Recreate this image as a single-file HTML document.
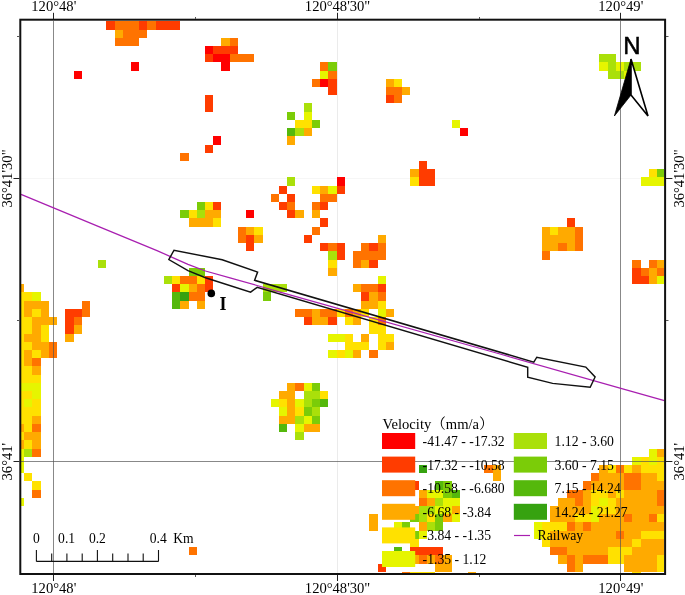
<!DOCTYPE html>
<html><head><meta charset="utf-8"><title>Velocity map</title>
<style>
html,body{margin:0;padding:0;background:#fff;}
body{width:685px;height:595px;overflow:hidden;}
svg{display:block;}
text{font-family:"Liberation Serif","Noto Serif CJK SC",serif;fill:#000;}
.ax{font-size:14.6px;}
.lg{font-size:13.7px;}
.sb{font-size:13.6px;}
</style></head><body>
<svg width="685" height="595" viewBox="0 0 685 595">
<rect x="0" y="0" width="685" height="595" fill="#fff"/>
<g fill="none" stroke-width="1">
<path d="M337.5,21V573" stroke="#ebebeb"/>
<path d="M21,178.5H664" stroke="#f6f6f6"/>
</g>
<g shape-rendering="crispEdges">
<rect x="106" y="21" width="9" height="9" fill="#FF3C00"/>
<rect x="115" y="21" width="24" height="9" fill="#FF7300"/>
<rect x="139" y="21" width="8" height="9" fill="#FF3C00"/>
<rect x="147" y="21" width="9" height="9" fill="#FF7300"/>
<rect x="156" y="21" width="24" height="9" fill="#FF3C00"/>
<rect x="115" y="30" width="8" height="8" fill="#FFAA00"/>
<rect x="123" y="30" width="24" height="8" fill="#FF7300"/>
<rect x="115" y="38" width="24" height="8" fill="#FF7300"/>
<rect x="221" y="38" width="9" height="8" fill="#FFAA00"/>
<rect x="230" y="38" width="8" height="8" fill="#FF7300"/>
<rect x="205" y="46" width="8" height="8" fill="#FF0000"/>
<rect x="213" y="46" width="25" height="8" fill="#FF3C00"/>
<rect x="205" y="54" width="8" height="8" fill="#FF3C00"/>
<rect x="213" y="54" width="17" height="8" fill="#FF0000"/>
<rect x="230" y="54" width="24" height="8" fill="#FF7300"/>
<rect x="599" y="54" width="17" height="8" fill="#AAE00A"/>
<rect x="131" y="62" width="8" height="9" fill="#FF0000"/>
<rect x="221" y="62" width="9" height="9" fill="#FF0000"/>
<rect x="320" y="62" width="8" height="9" fill="#FF7300"/>
<rect x="328" y="62" width="9" height="9" fill="#7BCC08"/>
<rect x="599" y="62" width="9" height="9" fill="#E6F500"/>
<rect x="608" y="62" width="8" height="9" fill="#AAE00A"/>
<rect x="616" y="62" width="8" height="9" fill="#E6F500"/>
<rect x="624" y="62" width="17" height="9" fill="#AAE00A"/>
<rect x="74" y="71" width="8" height="8" fill="#FF0000"/>
<rect x="320" y="71" width="8" height="8" fill="#E6F500"/>
<rect x="328" y="71" width="9" height="8" fill="#FF7300"/>
<rect x="608" y="71" width="16" height="8" fill="#AAE00A"/>
<rect x="624" y="71" width="8" height="8" fill="#E6F500"/>
<rect x="312" y="79" width="8" height="8" fill="#FF7300"/>
<rect x="320" y="79" width="8" height="8" fill="#FF0000"/>
<rect x="328" y="79" width="9" height="8" fill="#FF3C00"/>
<rect x="386" y="79" width="8" height="8" fill="#FFAA00"/>
<rect x="394" y="79" width="8" height="8" fill="#FFE100"/>
<rect x="328" y="87" width="9" height="8" fill="#FF3C00"/>
<rect x="386" y="87" width="16" height="8" fill="#FF7300"/>
<rect x="402" y="87" width="8" height="8" fill="#FFAA00"/>
<rect x="205" y="95" width="8" height="8" fill="#FF3C00"/>
<rect x="386" y="95" width="8" height="8" fill="#FF3C00"/>
<rect x="394" y="95" width="8" height="8" fill="#FF7300"/>
<rect x="205" y="103" width="8" height="9" fill="#FF3C00"/>
<rect x="304" y="103" width="8" height="9" fill="#AAE00A"/>
<rect x="287" y="112" width="8" height="8" fill="#7BCC08"/>
<rect x="304" y="112" width="8" height="8" fill="#E6F500"/>
<rect x="295" y="120" width="17" height="8" fill="#FFE100"/>
<rect x="312" y="120" width="8" height="8" fill="#7BCC08"/>
<rect x="452" y="120" width="8" height="8" fill="#E6F500"/>
<rect x="287" y="128" width="8" height="8" fill="#55B80C"/>
<rect x="295" y="128" width="9" height="8" fill="#AAE00A"/>
<rect x="304" y="128" width="8" height="8" fill="#FFAA00"/>
<rect x="460" y="128" width="8" height="8" fill="#FF0000"/>
<rect x="213" y="136" width="8" height="9" fill="#FF0000"/>
<rect x="287" y="136" width="8" height="9" fill="#FFAA00"/>
<rect x="205" y="145" width="8" height="8" fill="#FF3C00"/>
<rect x="180" y="153" width="9" height="8" fill="#FF7300"/>
<rect x="419" y="161" width="8" height="8" fill="#FF3C00"/>
<rect x="410" y="169" width="9" height="8" fill="#FFAA00"/>
<rect x="419" y="169" width="16" height="8" fill="#FF3C00"/>
<rect x="649" y="169" width="8" height="8" fill="#FFE100"/>
<rect x="657" y="169" width="7" height="8" fill="#7BCC08"/>
<rect x="287" y="177" width="8" height="9" fill="#AAE00A"/>
<rect x="337" y="177" width="8" height="9" fill="#FF0000"/>
<rect x="410" y="177" width="9" height="9" fill="#FFE100"/>
<rect x="419" y="177" width="16" height="9" fill="#FF3C00"/>
<rect x="641" y="177" width="23" height="9" fill="#E6F500"/>
<rect x="279" y="186" width="8" height="8" fill="#FF3C00"/>
<rect x="312" y="186" width="8" height="8" fill="#FFE100"/>
<rect x="320" y="186" width="8" height="8" fill="#FFAA00"/>
<rect x="328" y="186" width="9" height="8" fill="#E6F500"/>
<rect x="337" y="186" width="8" height="8" fill="#FF3C00"/>
<rect x="271" y="194" width="8" height="8" fill="#FF7300"/>
<rect x="287" y="194" width="8" height="8" fill="#FF3C00"/>
<rect x="320" y="194" width="17" height="8" fill="#FF7300"/>
<rect x="197" y="202" width="8" height="8" fill="#7BCC08"/>
<rect x="205" y="202" width="8" height="8" fill="#FFE100"/>
<rect x="213" y="202" width="8" height="8" fill="#FF3C00"/>
<rect x="279" y="202" width="8" height="8" fill="#FF3C00"/>
<rect x="287" y="202" width="8" height="8" fill="#FF7300"/>
<rect x="312" y="202" width="8" height="8" fill="#FF7300"/>
<rect x="320" y="202" width="8" height="8" fill="#FF3C00"/>
<rect x="180" y="210" width="9" height="8" fill="#7BCC08"/>
<rect x="189" y="210" width="8" height="8" fill="#FFE100"/>
<rect x="197" y="210" width="8" height="8" fill="#AAE00A"/>
<rect x="205" y="210" width="16" height="8" fill="#FFAA00"/>
<rect x="246" y="210" width="8" height="8" fill="#FF0000"/>
<rect x="287" y="210" width="8" height="8" fill="#FF3C00"/>
<rect x="295" y="210" width="9" height="8" fill="#FFAA00"/>
<rect x="312" y="210" width="8" height="8" fill="#FFAA00"/>
<rect x="189" y="218" width="24" height="9" fill="#FFAA00"/>
<rect x="213" y="218" width="8" height="9" fill="#FFE100"/>
<rect x="320" y="218" width="8" height="9" fill="#FF3C00"/>
<rect x="567" y="218" width="8" height="9" fill="#FF3C00"/>
<rect x="238" y="227" width="8" height="8" fill="#FF7300"/>
<rect x="246" y="227" width="8" height="8" fill="#FFAA00"/>
<rect x="254" y="227" width="9" height="8" fill="#FFE100"/>
<rect x="312" y="227" width="8" height="8" fill="#FF7300"/>
<rect x="542" y="227" width="8" height="8" fill="#FFAA00"/>
<rect x="550" y="227" width="8" height="8" fill="#FFE100"/>
<rect x="558" y="227" width="17" height="8" fill="#FFAA00"/>
<rect x="575" y="227" width="8" height="8" fill="#FF7300"/>
<rect x="238" y="235" width="8" height="8" fill="#FF7300"/>
<rect x="246" y="235" width="8" height="8" fill="#FF3C00"/>
<rect x="254" y="235" width="9" height="8" fill="#FFAA00"/>
<rect x="304" y="235" width="8" height="8" fill="#FF3C00"/>
<rect x="378" y="235" width="8" height="8" fill="#FFAA00"/>
<rect x="542" y="235" width="33" height="8" fill="#FFAA00"/>
<rect x="575" y="235" width="8" height="8" fill="#FF7300"/>
<rect x="246" y="243" width="8" height="8" fill="#FF3C00"/>
<rect x="320" y="243" width="8" height="8" fill="#FF3C00"/>
<rect x="328" y="243" width="9" height="8" fill="#FF7300"/>
<rect x="337" y="243" width="8" height="8" fill="#FF3C00"/>
<rect x="361" y="243" width="8" height="8" fill="#FF7300"/>
<rect x="369" y="243" width="9" height="8" fill="#FF3C00"/>
<rect x="378" y="243" width="8" height="8" fill="#FF7300"/>
<rect x="542" y="243" width="16" height="8" fill="#FFAA00"/>
<rect x="558" y="243" width="9" height="8" fill="#FF7300"/>
<rect x="567" y="243" width="8" height="8" fill="#FFAA00"/>
<rect x="575" y="243" width="8" height="8" fill="#FF7300"/>
<rect x="328" y="251" width="9" height="9" fill="#AAE00A"/>
<rect x="337" y="251" width="8" height="9" fill="#FF3C00"/>
<rect x="353" y="251" width="33" height="9" fill="#FF7300"/>
<rect x="542" y="251" width="8" height="9" fill="#FF7300"/>
<rect x="98" y="260" width="8" height="8" fill="#AAE00A"/>
<rect x="328" y="260" width="9" height="8" fill="#FFE100"/>
<rect x="353" y="260" width="8" height="8" fill="#FF7300"/>
<rect x="361" y="260" width="8" height="8" fill="#FFAA00"/>
<rect x="369" y="260" width="9" height="8" fill="#FF3C00"/>
<rect x="632" y="260" width="9" height="8" fill="#FF7300"/>
<rect x="649" y="260" width="8" height="8" fill="#FF7300"/>
<rect x="657" y="260" width="7" height="8" fill="#FFAA00"/>
<rect x="189" y="268" width="16" height="8" fill="#7BCC08"/>
<rect x="328" y="268" width="9" height="8" fill="#FFAA00"/>
<rect x="632" y="268" width="9" height="8" fill="#FF3C00"/>
<rect x="641" y="268" width="8" height="8" fill="#FF7300"/>
<rect x="649" y="268" width="8" height="8" fill="#FFAA00"/>
<rect x="657" y="268" width="7" height="8" fill="#FF7300"/>
<rect x="164" y="276" width="8" height="8" fill="#AAE00A"/>
<rect x="172" y="276" width="8" height="8" fill="#FFE100"/>
<rect x="180" y="276" width="17" height="8" fill="#FF7300"/>
<rect x="197" y="276" width="8" height="8" fill="#FFE100"/>
<rect x="205" y="276" width="8" height="8" fill="#FF3C00"/>
<rect x="378" y="276" width="8" height="8" fill="#E6F500"/>
<rect x="632" y="276" width="17" height="8" fill="#FF3C00"/>
<rect x="649" y="276" width="8" height="8" fill="#FFAA00"/>
<rect x="657" y="276" width="7" height="8" fill="#E6F500"/>
<rect x="21" y="284" width="3" height="8" fill="#FFAA00"/>
<rect x="172" y="284" width="8" height="8" fill="#FF3C00"/>
<rect x="180" y="284" width="9" height="8" fill="#E6F500"/>
<rect x="189" y="284" width="8" height="8" fill="#FFAA00"/>
<rect x="197" y="284" width="8" height="8" fill="#FF7300"/>
<rect x="205" y="284" width="8" height="8" fill="#FF3C00"/>
<rect x="263" y="284" width="24" height="8" fill="#AAE00A"/>
<rect x="353" y="284" width="8" height="8" fill="#FFAA00"/>
<rect x="361" y="284" width="17" height="8" fill="#FF7300"/>
<rect x="378" y="284" width="8" height="8" fill="#FF3C00"/>
<rect x="21" y="292" width="11" height="9" fill="#FFE100"/>
<rect x="32" y="292" width="9" height="9" fill="#E6F500"/>
<rect x="172" y="292" width="8" height="9" fill="#55B80C"/>
<rect x="180" y="292" width="9" height="9" fill="#36A210"/>
<rect x="189" y="292" width="16" height="9" fill="#FF7300"/>
<rect x="263" y="292" width="8" height="9" fill="#7BCC08"/>
<rect x="361" y="292" width="8" height="9" fill="#FF3C00"/>
<rect x="369" y="292" width="9" height="9" fill="#FFAA00"/>
<rect x="378" y="292" width="8" height="9" fill="#FF7300"/>
<rect x="21" y="301" width="3" height="8" fill="#FFE100"/>
<rect x="24" y="301" width="25" height="8" fill="#FFAA00"/>
<rect x="82" y="301" width="8" height="8" fill="#FF7300"/>
<rect x="172" y="301" width="8" height="8" fill="#55B80C"/>
<rect x="180" y="301" width="9" height="8" fill="#FFAA00"/>
<rect x="197" y="301" width="8" height="8" fill="#FFAA00"/>
<rect x="361" y="301" width="17" height="8" fill="#FFAA00"/>
<rect x="378" y="301" width="8" height="8" fill="#FFE100"/>
<rect x="21" y="309" width="3" height="8" fill="#FFE100"/>
<rect x="24" y="309" width="8" height="8" fill="#FFAA00"/>
<rect x="32" y="309" width="9" height="8" fill="#FFE100"/>
<rect x="41" y="309" width="8" height="8" fill="#FFAA00"/>
<rect x="65" y="309" width="17" height="8" fill="#FF3C00"/>
<rect x="82" y="309" width="8" height="8" fill="#FF7300"/>
<rect x="295" y="309" width="17" height="8" fill="#FF7300"/>
<rect x="312" y="309" width="8" height="8" fill="#FFAA00"/>
<rect x="320" y="309" width="17" height="8" fill="#FF7300"/>
<rect x="337" y="309" width="8" height="8" fill="#FFE100"/>
<rect x="345" y="309" width="8" height="8" fill="#FF7300"/>
<rect x="353" y="309" width="8" height="8" fill="#FFAA00"/>
<rect x="361" y="309" width="8" height="8" fill="#FFE100"/>
<rect x="378" y="309" width="8" height="8" fill="#E6F500"/>
<rect x="386" y="309" width="8" height="8" fill="#FFAA00"/>
<rect x="21" y="317" width="11" height="8" fill="#FFE100"/>
<rect x="32" y="317" width="25" height="8" fill="#FFAA00"/>
<rect x="65" y="317" width="9" height="8" fill="#FF3C00"/>
<rect x="74" y="317" width="8" height="8" fill="#FF7300"/>
<rect x="304" y="317" width="8" height="8" fill="#FF3C00"/>
<rect x="312" y="317" width="16" height="8" fill="#FFAA00"/>
<rect x="328" y="317" width="9" height="8" fill="#FF3C00"/>
<rect x="345" y="317" width="8" height="8" fill="#FFE100"/>
<rect x="353" y="317" width="8" height="8" fill="#FFAA00"/>
<rect x="369" y="317" width="9" height="8" fill="#FFE100"/>
<rect x="378" y="317" width="8" height="8" fill="#FF7300"/>
<rect x="21" y="325" width="11" height="9" fill="#FFE100"/>
<rect x="32" y="325" width="9" height="9" fill="#FFAA00"/>
<rect x="41" y="325" width="8" height="9" fill="#FFE100"/>
<rect x="65" y="325" width="9" height="9" fill="#FF3C00"/>
<rect x="74" y="325" width="8" height="9" fill="#FFAA00"/>
<rect x="369" y="325" width="17" height="9" fill="#FFE100"/>
<rect x="21" y="334" width="3" height="8" fill="#FFE100"/>
<rect x="24" y="334" width="17" height="8" fill="#FFAA00"/>
<rect x="41" y="334" width="8" height="8" fill="#FFE100"/>
<rect x="65" y="334" width="9" height="8" fill="#FFAA00"/>
<rect x="328" y="334" width="17" height="8" fill="#E6F500"/>
<rect x="345" y="334" width="8" height="8" fill="#FFE100"/>
<rect x="361" y="334" width="8" height="8" fill="#FFAA00"/>
<rect x="378" y="334" width="16" height="8" fill="#FFE100"/>
<rect x="21" y="342" width="11" height="8" fill="#FFE100"/>
<rect x="32" y="342" width="17" height="8" fill="#FFAA00"/>
<rect x="49" y="342" width="8" height="8" fill="#FF7300"/>
<rect x="345" y="342" width="24" height="8" fill="#FFE100"/>
<rect x="378" y="342" width="8" height="8" fill="#FFE100"/>
<rect x="386" y="342" width="8" height="8" fill="#FFAA00"/>
<rect x="21" y="350" width="3" height="8" fill="#FFE100"/>
<rect x="24" y="350" width="8" height="8" fill="#FFAA00"/>
<rect x="32" y="350" width="9" height="8" fill="#FFE100"/>
<rect x="41" y="350" width="8" height="8" fill="#FFAA00"/>
<rect x="49" y="350" width="8" height="8" fill="#FF7300"/>
<rect x="328" y="350" width="9" height="8" fill="#E6F500"/>
<rect x="337" y="350" width="8" height="8" fill="#FFE100"/>
<rect x="345" y="350" width="8" height="8" fill="#E6F500"/>
<rect x="353" y="350" width="8" height="8" fill="#FFAA00"/>
<rect x="369" y="350" width="9" height="8" fill="#FF7300"/>
<rect x="21" y="358" width="3" height="8" fill="#FFE100"/>
<rect x="24" y="358" width="8" height="8" fill="#FFAA00"/>
<rect x="32" y="358" width="9" height="8" fill="#FF7300"/>
<rect x="21" y="366" width="11" height="9" fill="#FFE100"/>
<rect x="32" y="366" width="9" height="9" fill="#FFAA00"/>
<rect x="21" y="375" width="20" height="8" fill="#FFE100"/>
<rect x="21" y="383" width="20" height="8" fill="#E6F500"/>
<rect x="287" y="383" width="8" height="8" fill="#FFAA00"/>
<rect x="295" y="383" width="9" height="8" fill="#FF7300"/>
<rect x="304" y="383" width="8" height="8" fill="#E6F500"/>
<rect x="312" y="383" width="8" height="8" fill="#7BCC08"/>
<rect x="21" y="391" width="11" height="8" fill="#FFE100"/>
<rect x="32" y="391" width="9" height="8" fill="#E6F500"/>
<rect x="279" y="391" width="16" height="8" fill="#FFAA00"/>
<rect x="304" y="391" width="16" height="8" fill="#AAE00A"/>
<rect x="320" y="391" width="8" height="8" fill="#FFE100"/>
<rect x="21" y="399" width="3" height="8" fill="#FFE100"/>
<rect x="24" y="399" width="8" height="8" fill="#E6F500"/>
<rect x="32" y="399" width="9" height="8" fill="#FFE100"/>
<rect x="271" y="399" width="8" height="8" fill="#E6F500"/>
<rect x="279" y="399" width="8" height="8" fill="#FFE100"/>
<rect x="287" y="399" width="8" height="8" fill="#FFAA00"/>
<rect x="295" y="399" width="9" height="8" fill="#E6F500"/>
<rect x="304" y="399" width="8" height="8" fill="#AAE00A"/>
<rect x="312" y="399" width="8" height="8" fill="#7BCC08"/>
<rect x="320" y="399" width="8" height="8" fill="#55B80C"/>
<rect x="21" y="407" width="20" height="9" fill="#FFE100"/>
<rect x="279" y="407" width="8" height="9" fill="#E6F500"/>
<rect x="287" y="407" width="8" height="9" fill="#FFAA00"/>
<rect x="295" y="407" width="9" height="9" fill="#FFE100"/>
<rect x="304" y="407" width="8" height="9" fill="#7BCC08"/>
<rect x="312" y="407" width="8" height="9" fill="#AAE00A"/>
<rect x="21" y="416" width="11" height="8" fill="#FFE100"/>
<rect x="32" y="416" width="9" height="8" fill="#FFAA00"/>
<rect x="279" y="416" width="16" height="8" fill="#FFAA00"/>
<rect x="295" y="416" width="9" height="8" fill="#AAE00A"/>
<rect x="304" y="416" width="8" height="8" fill="#E6F500"/>
<rect x="312" y="416" width="8" height="8" fill="#7BCC08"/>
<rect x="21" y="424" width="3" height="8" fill="#FFAA00"/>
<rect x="24" y="424" width="8" height="8" fill="#FFE100"/>
<rect x="32" y="424" width="9" height="8" fill="#FF7300"/>
<rect x="279" y="424" width="8" height="8" fill="#55B80C"/>
<rect x="295" y="424" width="9" height="8" fill="#E6F500"/>
<rect x="304" y="424" width="16" height="8" fill="#FFAA00"/>
<rect x="21" y="432" width="3" height="8" fill="#FFE100"/>
<rect x="24" y="432" width="17" height="8" fill="#FFAA00"/>
<rect x="295" y="432" width="9" height="8" fill="#AAE00A"/>
<rect x="21" y="440" width="3" height="9" fill="#FFAA00"/>
<rect x="24" y="440" width="8" height="9" fill="#FFE100"/>
<rect x="32" y="440" width="9" height="9" fill="#FFAA00"/>
<rect x="21" y="449" width="3" height="8" fill="#E6F500"/>
<rect x="24" y="449" width="8" height="8" fill="#AAE00A"/>
<rect x="32" y="449" width="9" height="8" fill="#FF7300"/>
<rect x="649" y="449" width="8" height="8" fill="#E6F500"/>
<rect x="657" y="449" width="7" height="8" fill="#FFAA00"/>
<rect x="21" y="457" width="3" height="8" fill="#E6F500"/>
<rect x="632" y="457" width="9" height="8" fill="#E6F500"/>
<rect x="641" y="457" width="8" height="8" fill="#FFE100"/>
<rect x="649" y="457" width="8" height="8" fill="#E6F500"/>
<rect x="657" y="457" width="7" height="8" fill="#FFE100"/>
<rect x="21" y="465" width="3" height="8" fill="#E6F500"/>
<rect x="419" y="465" width="8" height="8" fill="#36A210"/>
<rect x="484" y="465" width="9" height="8" fill="#FF7300"/>
<rect x="493" y="465" width="8" height="8" fill="#FFAA00"/>
<rect x="599" y="465" width="9" height="8" fill="#FFAA00"/>
<rect x="608" y="465" width="8" height="8" fill="#FFE100"/>
<rect x="616" y="465" width="8" height="8" fill="#FF7300"/>
<rect x="624" y="465" width="8" height="8" fill="#FFE100"/>
<rect x="632" y="465" width="9" height="8" fill="#FFAA00"/>
<rect x="641" y="465" width="23" height="8" fill="#FFE100"/>
<rect x="24" y="473" width="8" height="8" fill="#FFE100"/>
<rect x="493" y="473" width="8" height="8" fill="#FFAA00"/>
<rect x="591" y="473" width="8" height="8" fill="#FF7300"/>
<rect x="599" y="473" width="25" height="8" fill="#FFAA00"/>
<rect x="624" y="473" width="17" height="8" fill="#FF7300"/>
<rect x="641" y="473" width="16" height="8" fill="#FFAA00"/>
<rect x="657" y="473" width="7" height="8" fill="#FFE100"/>
<rect x="32" y="481" width="9" height="9" fill="#FFE100"/>
<rect x="410" y="481" width="9" height="9" fill="#FF3C00"/>
<rect x="435" y="481" width="8" height="9" fill="#55B80C"/>
<rect x="443" y="481" width="9" height="9" fill="#7BCC08"/>
<rect x="583" y="481" width="8" height="9" fill="#FF7300"/>
<rect x="591" y="481" width="33" height="9" fill="#FFAA00"/>
<rect x="624" y="481" width="17" height="9" fill="#FF7300"/>
<rect x="641" y="481" width="23" height="9" fill="#FFAA00"/>
<rect x="32" y="490" width="9" height="8" fill="#FF7300"/>
<rect x="419" y="490" width="8" height="8" fill="#FFAA00"/>
<rect x="427" y="490" width="16" height="8" fill="#E6F500"/>
<rect x="443" y="490" width="9" height="8" fill="#7BCC08"/>
<rect x="452" y="490" width="8" height="8" fill="#55B80C"/>
<rect x="567" y="490" width="16" height="8" fill="#FF7300"/>
<rect x="583" y="490" width="8" height="8" fill="#FFAA00"/>
<rect x="591" y="490" width="17" height="8" fill="#FFE100"/>
<rect x="608" y="490" width="8" height="8" fill="#FFAA00"/>
<rect x="616" y="490" width="8" height="8" fill="#FFE100"/>
<rect x="624" y="490" width="33" height="8" fill="#FFAA00"/>
<rect x="657" y="490" width="7" height="8" fill="#FF7300"/>
<rect x="21" y="498" width="3" height="8" fill="#E6F500"/>
<rect x="419" y="498" width="8" height="8" fill="#FF7300"/>
<rect x="427" y="498" width="8" height="8" fill="#FFAA00"/>
<rect x="435" y="498" width="8" height="8" fill="#AAE00A"/>
<rect x="443" y="498" width="17" height="8" fill="#E6F500"/>
<rect x="558" y="498" width="17" height="8" fill="#FFAA00"/>
<rect x="575" y="498" width="8" height="8" fill="#FF7300"/>
<rect x="583" y="498" width="8" height="8" fill="#FFAA00"/>
<rect x="591" y="498" width="8" height="8" fill="#FFE100"/>
<rect x="599" y="498" width="9" height="8" fill="#E6F500"/>
<rect x="608" y="498" width="8" height="8" fill="#FFE100"/>
<rect x="616" y="498" width="41" height="8" fill="#FFAA00"/>
<rect x="657" y="498" width="7" height="8" fill="#FF7300"/>
<rect x="410" y="506" width="9" height="8" fill="#FFAA00"/>
<rect x="419" y="506" width="16" height="8" fill="#AAE00A"/>
<rect x="435" y="506" width="17" height="8" fill="#E6F500"/>
<rect x="452" y="506" width="8" height="8" fill="#FFAA00"/>
<rect x="550" y="506" width="41" height="8" fill="#FFAA00"/>
<rect x="591" y="506" width="8" height="8" fill="#E6F500"/>
<rect x="599" y="506" width="17" height="8" fill="#FFE100"/>
<rect x="616" y="506" width="48" height="8" fill="#FFAA00"/>
<rect x="369" y="514" width="9" height="8" fill="#FFAA00"/>
<rect x="410" y="514" width="9" height="8" fill="#7BCC08"/>
<rect x="419" y="514" width="8" height="8" fill="#AAE00A"/>
<rect x="427" y="514" width="8" height="8" fill="#FFE100"/>
<rect x="435" y="514" width="8" height="8" fill="#7BCC08"/>
<rect x="443" y="514" width="9" height="8" fill="#FFAA00"/>
<rect x="452" y="514" width="8" height="8" fill="#E6F500"/>
<rect x="550" y="514" width="25" height="8" fill="#FFAA00"/>
<rect x="575" y="514" width="16" height="8" fill="#FFE100"/>
<rect x="591" y="514" width="8" height="8" fill="#E6F500"/>
<rect x="599" y="514" width="25" height="8" fill="#FFAA00"/>
<rect x="624" y="514" width="8" height="8" fill="#FF7300"/>
<rect x="632" y="514" width="17" height="8" fill="#FFAA00"/>
<rect x="649" y="514" width="8" height="8" fill="#FF7300"/>
<rect x="657" y="514" width="7" height="8" fill="#FFE100"/>
<rect x="369" y="522" width="9" height="9" fill="#FFAA00"/>
<rect x="394" y="522" width="8" height="9" fill="#E6F500"/>
<rect x="402" y="522" width="8" height="9" fill="#7BCC08"/>
<rect x="419" y="522" width="8" height="9" fill="#FFAA00"/>
<rect x="427" y="522" width="8" height="9" fill="#AAE00A"/>
<rect x="435" y="522" width="8" height="9" fill="#7BCC08"/>
<rect x="534" y="522" width="8" height="9" fill="#E6F500"/>
<rect x="542" y="522" width="8" height="9" fill="#FFE100"/>
<rect x="550" y="522" width="17" height="9" fill="#FFE100"/>
<rect x="567" y="522" width="8" height="9" fill="#FF7300"/>
<rect x="575" y="522" width="8" height="9" fill="#FFAA00"/>
<rect x="583" y="522" width="8" height="9" fill="#FF7300"/>
<rect x="591" y="522" width="73" height="9" fill="#FFAA00"/>
<rect x="410" y="531" width="9" height="8" fill="#7BCC08"/>
<rect x="419" y="531" width="8" height="8" fill="#E6F500"/>
<rect x="534" y="531" width="8" height="8" fill="#E6F500"/>
<rect x="542" y="531" width="8" height="8" fill="#FFE100"/>
<rect x="550" y="531" width="66" height="8" fill="#FFAA00"/>
<rect x="616" y="531" width="8" height="8" fill="#FF7300"/>
<rect x="624" y="531" width="17" height="8" fill="#FFAA00"/>
<rect x="641" y="531" width="23" height="8" fill="#FFE100"/>
<rect x="410" y="539" width="9" height="8" fill="#FFE100"/>
<rect x="542" y="539" width="8" height="8" fill="#FFE100"/>
<rect x="550" y="539" width="82" height="8" fill="#FFAA00"/>
<rect x="632" y="539" width="9" height="8" fill="#FFE100"/>
<rect x="641" y="539" width="23" height="8" fill="#FFAA00"/>
<rect x="189" y="547" width="8" height="8" fill="#FF7300"/>
<rect x="394" y="547" width="8" height="8" fill="#55B80C"/>
<rect x="410" y="547" width="33" height="8" fill="#FF3C00"/>
<rect x="550" y="547" width="17" height="8" fill="#FF7300"/>
<rect x="567" y="547" width="41" height="8" fill="#FFAA00"/>
<rect x="608" y="547" width="24" height="8" fill="#FFE100"/>
<rect x="632" y="547" width="32" height="8" fill="#FFAA00"/>
<rect x="410" y="555" width="9" height="9" fill="#FFAA00"/>
<rect x="419" y="555" width="8" height="9" fill="#FF7300"/>
<rect x="427" y="555" width="8" height="9" fill="#FFAA00"/>
<rect x="435" y="555" width="8" height="9" fill="#FF7300"/>
<rect x="443" y="555" width="9" height="9" fill="#FFAA00"/>
<rect x="558" y="555" width="9" height="9" fill="#FFAA00"/>
<rect x="567" y="555" width="8" height="9" fill="#FF7300"/>
<rect x="575" y="555" width="8" height="9" fill="#FFAA00"/>
<rect x="583" y="555" width="25" height="9" fill="#FF7300"/>
<rect x="608" y="555" width="16" height="9" fill="#FFE100"/>
<rect x="624" y="555" width="33" height="9" fill="#FFAA00"/>
<rect x="657" y="555" width="7" height="9" fill="#FFE100"/>
<rect x="378" y="564" width="8" height="8" fill="#FF3C00"/>
<rect x="435" y="564" width="17" height="8" fill="#FFAA00"/>
<rect x="567" y="564" width="8" height="8" fill="#FF7300"/>
<rect x="575" y="564" width="8" height="8" fill="#FFAA00"/>
<rect x="624" y="564" width="33" height="8" fill="#FFAA00"/>
<rect x="657" y="564" width="7" height="8" fill="#FFE100"/>
<rect x="402" y="572" width="8" height="1" fill="#FF7300"/>
<rect x="410" y="572" width="25" height="1" fill="#FFE100"/>
<rect x="468" y="572" width="8" height="1" fill="#FFAA00"/>
<rect x="632" y="572" width="9" height="1" fill="#FFE100"/>
</g>
<!-- graticule -->
<g fill="none" stroke-width="1">
<path d="M53.5,21V573M620.5,21V573M21,461.5H664" stroke="#555" stroke-width="0.7"/>
</g>
<!-- railway -->
<path d="M21,194.4L100,227.1L157,250.6L175,258.6L188,264.3L205.5,271L230,277.8L257,285.5L280,292.1L500,354L620,388.2L664.4,400.6" fill="none" stroke="#a81fb0" stroke-width="1.25"/>
<!-- polygon -->
<path d="M168.8,259.6L174,250.2L222.2,259.8L257.6,272.1L254.6,280.3L533.8,362.1L536.8,357.2L585.8,367.1L595.1,377L590.2,387.3L552.6,383.4L527.7,377.3L527.7,367.3L257.2,287.3L250.6,292.2L205.5,277.7L188,270.7Z" fill="none" stroke="#111" stroke-width="1.45" stroke-linejoin="miter"/>
<circle cx="211.3" cy="293.4" r="3.8" fill="#000"/>
<text x="219.4" y="309.6" style="font-size:18px;font-weight:bold;">I</text>
<!-- legend -->
<text x="382.6" y="429" class="lg" style="font-size:14.6px">Velocity（mm/a）</text>
<rect x="382" y="433.0" width="33.2" height="16" fill="#FF0000"/>
<text x="422.6" y="446.0" class="lg">-41.47 - -17.32</text>
<rect x="382" y="456.6" width="33.2" height="16" fill="#FF3C00"/>
<text x="422.6" y="469.6" class="lg">-17.32 - -10.58</text>
<rect x="382" y="480.2" width="33.2" height="16" fill="#FF7300"/>
<text x="422.6" y="493.2" class="lg">-10.58 - -6.680</text>
<rect x="382" y="503.8" width="33.2" height="16" fill="#FFAA00"/>
<text x="422.6" y="516.8" class="lg">-6.68 - -3.84</text>
<rect x="382" y="527.4" width="33.2" height="16" fill="#FFE100"/>
<text x="422.6" y="540.4" class="lg">-3.84 - -1.35</text>
<rect x="382" y="551.0" width="33.2" height="16" fill="#E6F500"/>
<text x="422.6" y="564.0" class="lg">-1.35 - 1.12</text>
<rect x="513.8" y="433.0" width="33.2" height="16" fill="#AAE00A"/>
<text x="554.6" y="446.0" class="lg">1.12 - 3.60</text>
<rect x="513.8" y="456.6" width="33.2" height="16" fill="#7BCC08"/>
<text x="554.6" y="469.6" class="lg">3.60 - 7.15</text>
<rect x="513.8" y="480.2" width="33.2" height="16" fill="#55B80C"/>
<text x="554.6" y="493.2" class="lg">7.15 - 14.24</text>
<rect x="513.8" y="503.8" width="33.2" height="16" fill="#36A210"/>
<text x="554.6" y="516.8" class="lg">14.24 - 21.27</text>
<path d="M514,535.5H530" stroke="#a81fb0" stroke-width="1.2"/>
<text x="537.6" y="539.8" class="lg">Railway</text>
<!-- frame -->
<rect x="20.3" y="19.7" width="644.8" height="554.3" fill="none" stroke="#111" stroke-width="2"/>
<g stroke="#222" stroke-width="1" fill="none">
<path d="M53.5,12.8V19M337.5,12.8V19M620.5,12.8V19M53.5,575V581M337.5,575V581M620.5,575V581"/>
<path d="M13.5,178.5H19.5M13.5,461.5H19.5M666,178.5H672.4M666,461.5H672.4"/>
<path d="M195.5,17V19M479.5,17V19M195.5,575V577M479.5,575V577M17,36.5H19.5M17,320.5H19.5M666,36.5H668.5M666,320.5H668.5" stroke="#555"/>
</g>
<!-- axis labels -->
<g class="ax" text-anchor="middle">
<text x="53.8" y="11.4">120°48'</text>
<text x="337.6" y="11.4">120°48'30"</text>
<text x="620.8" y="11.4">120°49'</text>
<text x="53.8" y="592.7">120°48'</text>
<text x="337.6" y="592.7">120°48'30"</text>
<text x="620.8" y="592.7">120°49'</text>
<text transform="translate(11.8,178.5) rotate(-90)">36°41'30"</text>
<text transform="translate(11.8,461.6) rotate(-90)">36°41'</text>
<text transform="translate(684,178.5) rotate(-90)">36°41'30"</text>
<text transform="translate(684,461.6) rotate(-90)">36°41'</text>
</g>
<!-- scale bar -->
<path d="M36.4,561.4H158.5M36.4,561.4V550M51.7,561.4V553.6M66.9,561.4V553.6M82.2,561.4V553.6M97.4,561.4V550M112.7,561.4V553.6M128.0,561.4V553.6M143.2,561.4V553.6M158.5,561.4V550" fill="none" stroke="#111" stroke-width="1.1"/>
<g class="sb" text-anchor="middle">
<text x="36.4" y="543">0</text>
<text x="66.6" y="543">0.1</text>
<text x="97.4" y="543">0.2</text>
<text x="158.2" y="543">0.4</text>
<text x="183.4" y="543">Km</text>
</g>
<!-- north arrow -->
<text x="632" y="53.7" text-anchor="middle" style="font-family:'Liberation Sans',sans-serif;font-size:24px;stroke:#000;stroke-width:0.5px;fill:#000;">N</text>
<path d="M631,59L614.4,116L631,95Z" fill="#000" stroke="#000" stroke-width="0.8" stroke-linejoin="miter"/>
<path d="M631,59L648,116L631,95Z" fill="#fff" stroke="#000" stroke-width="1.6" stroke-linejoin="miter"/>
</svg>
</body></html>
